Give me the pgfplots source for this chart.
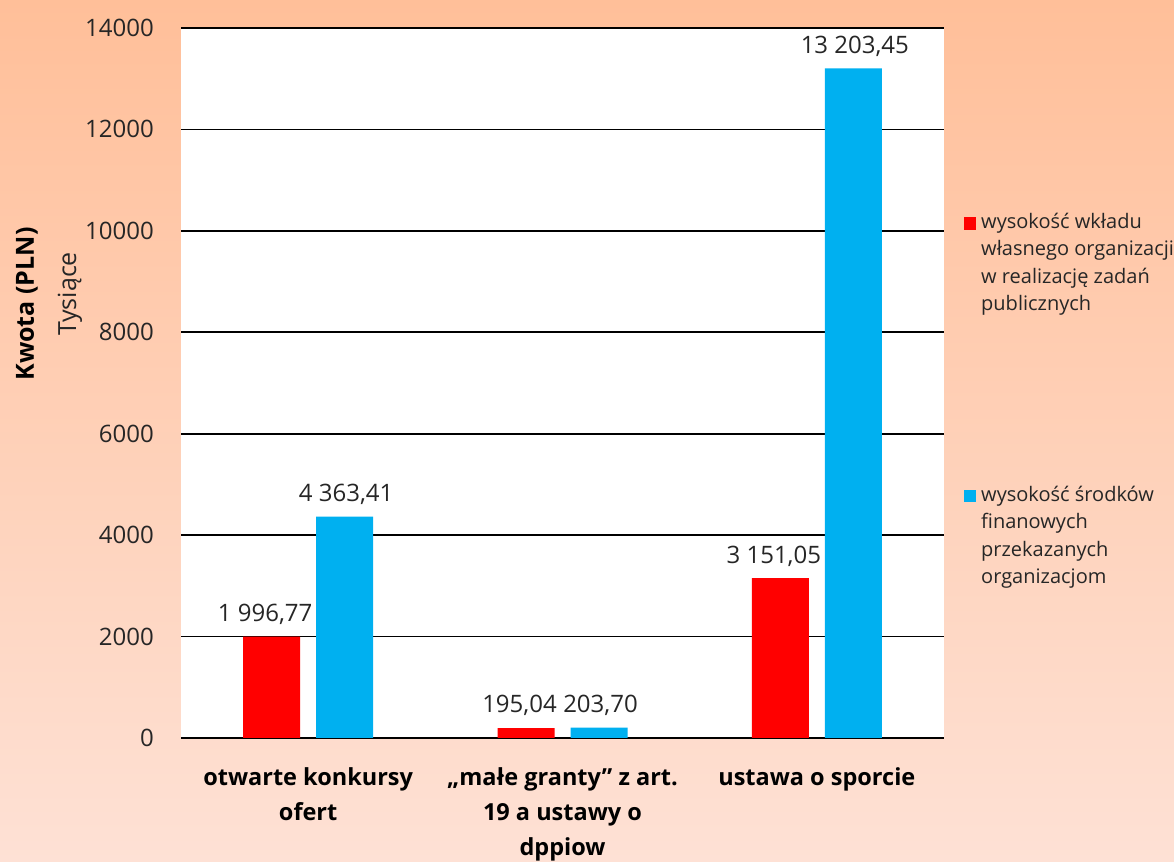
\documentclass[border=0pt]{standalone}
\usepackage{pgfplots}
\pgfplotsset{compat=1.18}
\usepackage{fontspec}
\setmainfont{Open Sans}
\definecolor{bgtop}{RGB}{255,191,153}
\definecolor{bgbot}{RGB}{254,225,213}
\definecolor{myred}{RGB}{255,0,0}
\definecolor{myblue}{RGB}{0,176,240}
\definecolor{txt}{RGB}{38,38,38}
\begin{document}
\begin{tikzpicture}[x=1bp,y=1bp]
\shade[top color=bgtop, bottom color=bgbot] (0,0) rectangle (1174,862);
\begin{axis}[
  at={(181bp,124bp)}, anchor=south west,
  scale only axis, width=763bp, height=710bp,
  xmin=-0.5, xmax=2.5, ymin=0, ymax=14000,
  axis background/.style={fill=white},
  axis line style={draw=none},
  ytick={0,2000,4000,6000,8000,10000,12000,14000},
  yticklabels={0,2000,4000,6000,8000,10000,12000,14000},
  scaled y ticks=false,
  ymajorgrids, grid style={black, line width=1.8bp},
  major tick length=0pt,
  xtick={0,1,2},
  xticklabels={{otwarte konkursy\\ofert},{„małe granty” z art.\\19 a ustawy o\\dppiow},{ustawa o sporcie}},
  xticklabel style={font=\bfseries\fontsize{23.5bp}{35bp}\selectfont, align=center, text=black, anchor=north, inner sep=0pt, yshift=-29bp},
  yticklabel style={font=\fontsize{24bp}{28bp}\selectfont, text=txt, anchor=east, inner sep=0pt, xshift=-27bp},
  clip=false,
]
\addplot[ybar, bar width=57bp, bar shift=-36.5bp, fill=myred, draw=none,
  nodes near coords, point meta=explicit symbolic,
  every node near coord/.style={font=\fontsize{24bp}{28bp}\selectfont, text=txt, anchor=south, yshift=8.5bp, xshift=-43bp}]
  coordinates {(0,1996.77) [1~996,77] (1,195.04) [195,04] (2,3151.05) [3~151,05]};
\addplot[ybar, bar width=57bp, bar shift=36.5bp, fill=myblue, draw=none,
  nodes near coords, point meta=explicit symbolic,
  every node near coord/.style={font=\fontsize{24bp}{28bp}\selectfont, text=txt, anchor=south, yshift=8.5bp, xshift=38bp}]
  coordinates {(0,4363.41) [4~363,41] (1,203.70) [203,70] (2,13203.45) [13~203,45]};
\end{axis}
% y axis titles
\node[rotate=90, font=\bfseries\fontsize{25bp}{30bp}\selectfont, text=black] at (27,558) {Kwota (PLN)};
\node[rotate=90, font=\fontsize{25bp}{30bp}\selectfont, text=txt] at (70,568) {Tysiące};
% legend
\fill[myred] (964,632) rectangle (976,645);
\node[anchor=north west, align=left, inner sep=0pt, font=\fontsize{20bp}{27.5bp}\selectfont, text=txt] at (981,649.5) {wysokość wkładu\\własnego organizacji\\w realizację zadań\\publicznych};
\fill[myblue] (964,360) rectangle (976,372);
\node[anchor=north west, align=left, inner sep=0pt, font=\fontsize{20bp}{27.5bp}\selectfont, text=txt] at (981,376.5) {wysokość środków\\finanowych\\przekazanych\\organizacjom};
\pgfresetboundingbox
\path[use as bounding box] (0,0) rectangle (1174,862);
\end{tikzpicture}
\end{document}
